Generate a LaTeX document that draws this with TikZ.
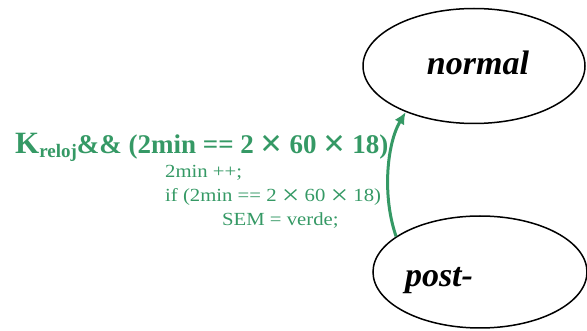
\documentclass[tikz,border=0pt]{standalone}
\usepackage{fontspec}
\setmainfont{Liberation Serif}
\newfontfamily\widefam[FakeStretch=1.12]{Liberation Serif}
\usetikzlibrary{shapes.geometric,arrows.meta}
\definecolor{lgreen}{RGB}{53,153,101}
\newcommand{\bigmul}{\raisebox{-3pt}{\fontsize{39}{39}\selectfont ×}}
\newcommand{\smallmul}{\raisebox{-2.5pt}{\fontsize{28}{28}\selectfont ×}}
\tikzset{
  state/.style={ellipse,draw=black,line width=1.5pt,inner sep=0pt},
  slabel/.style={anchor=base,font=\fontsize{34}{36}\selectfont\bfseries\itshape},
  trans/.style={draw=lgreen,line width=3pt,-{Latex[length=12pt,width=11pt]}},
  bigtxt/.style={anchor=base west,inner sep=0pt,text=lgreen,font=\fontsize{27}{30}\selectfont\bfseries},
  smalltxt/.style={anchor=base west,inner sep=0pt,text=lgreen,font=\widefam\fontsize{18.5}{20}\selectfont}
}
\begin{document}
\begin{tikzpicture}[x=1pt,y=-1pt]
\useasboundingbox (0,0) rectangle (587,331);
\node[state,minimum width=222pt,minimum height=115pt] (normal) at (474,66) {};
\node[state,minimum width=214pt,minimum height=112pt] (post) at (480,272) {};
\node[slabel] (normaltxt) at (478,75) {normal};
\node[slabel] (posttxt) at (439,287) {post-};
\draw[trans] (post.157.7) .. controls +(-14,-40) and +(-19,32) .. (normal.214.5);
\node[bigtxt] (guard) at (15,154) {{\fontsize{31}{32}\selectfont K}\raisebox{-3.5pt}{\fontsize{19}{20}\selectfont reloj}\&\& (2min == 2 \bigmul{} 60 \bigmul{} 18)};
\node[smalltxt] (act1) at (165,178) {2min ++;};
\node[smalltxt] (act2) at (165,202) {if (2min == 2 \smallmul{} 60 \smallmul{} 18)};
\node[smalltxt] (act3) at (222,226) {SEM = verde;};
\end{tikzpicture}
\end{document}
